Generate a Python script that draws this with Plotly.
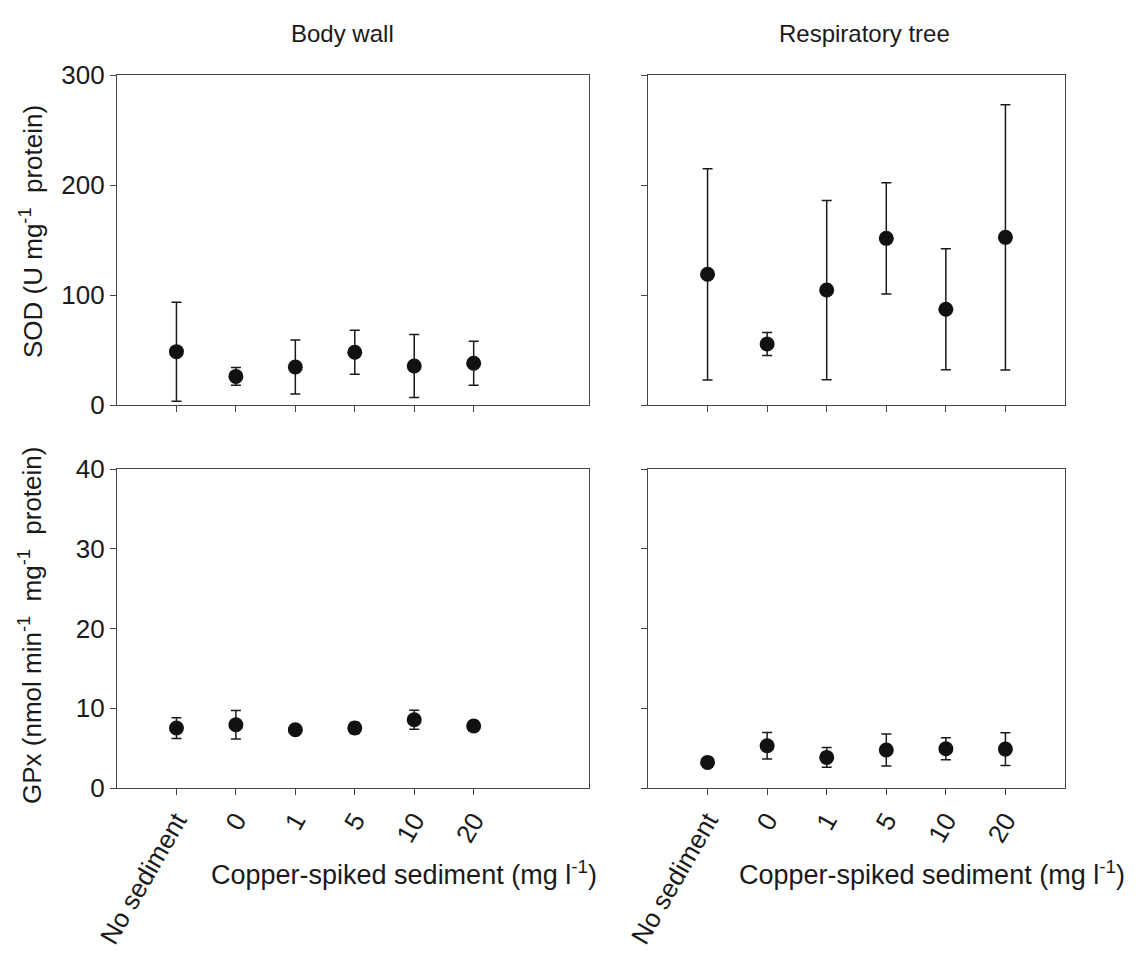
import plotly.graph_objects as go

categories = ["No sediment", "0", "1", "5", "10", "20"]

sod_body = [48.5, 26, 34.5, 48, 35.5, 38]
sod_body_err = [45, 8, 24.6, 20, 28.7, 20]
sod_resp = [118.8, 55.5, 104.5, 151.5, 87, 152.4]
sod_resp_err = [96, 10.5, 81.5, 50.5, 55, 120.5]

gpx_body = [7.52, 7.93, 7.3, 7.52, 8.56, 7.77]
gpx_body_err = [1.3, 1.8, 0.45, 0.7, 1.2, 0.6]
gpx_resp = [3.21, 5.3, 3.84, 4.76, 4.92, 4.88]
gpx_resp_err = [0.2, 1.65, 1.23, 2.0, 1.37, 2.05]

W, H = 1140, 960
FONT = "Liberation Sans, Arial, sans-serif"
TXT = "#1a1a1a"
LINE = "#454545"

def px(x):
    return x / W

def py(y):
    return 1 - y / H

fig = go.Figure()

panels = [
    (sod_body, sod_body_err, "x", "y"),
    (sod_resp, sod_resp_err, "x2", "y2"),
    (gpx_body, gpx_body_err, "x3", "y3"),
    (gpx_resp, gpx_resp_err, "x4", "y4"),
]
for vals, errs, xa, ya in panels:
    fig.add_trace(go.Scatter(
        x=categories, y=vals, xaxis=xa, yaxis=ya, mode="markers",
        marker=dict(size=15, color="#111111"),
        error_y=dict(type="data", array=errs, visible=True,
                     color="#1a1a1a", thickness=1.5, width=5),
        showlegend=False, cliponaxis=False,
    ))

xL = [px(117), px(589)]
xR = [px(648), px(1065)]
yT = [py(405), py(75)]
yB = [py(788), py(469)]

def xaxis(domain, anchor, rng, labels):
    return dict(domain=domain, anchor=anchor, type="category",
                categoryorder="array", categoryarray=categories,
                range=rng, showline=True, mirror=True, linecolor=LINE,
                linewidth=1.2, ticks="outside", ticklen=6, tickcolor=LINE,
                tickwidth=1.2, showgrid=False, zeroline=False,
                showticklabels=labels, tickangle=-60,
                tickfont=dict(family=FONT, size=26, color=TXT),
                automargin=False)

def yaxis(domain, anchor, rng, dtick, labels):
    return dict(domain=domain, anchor=anchor, range=rng, dtick=dtick,
                showline=True, mirror=True, linecolor=LINE, linewidth=1.2,
                ticks="outside", ticklen=6, tickcolor=LINE, tickwidth=1.2,
                showgrid=False, zeroline=False, showticklabels=labels,
                tickfont=dict(family=FONT, size=26, color=TXT),
                automargin=False)

fig.update_layout(
    width=W, height=H,
    margin=dict(l=0, r=0, t=0, b=0),
    paper_bgcolor="white", plot_bgcolor="white",
    font=dict(family=FONT, color=TXT),
    xaxis=xaxis(xL, "y", [-1.0, 6.94], False),
    yaxis=yaxis(yT, "x", [0, 300], 100, True),
    xaxis2=xaxis(xR, "y2", [-1.0, 6.0], False),
    yaxis2=yaxis(yT, "x2", [0, 300], 100, False),
    xaxis3=xaxis(xL, "y3", [-1.0, 6.94], True),
    yaxis3=yaxis(yB, "x3", [0, 40], 10, True),
    xaxis4=xaxis(xR, "y4", [-1.0, 6.0], True),
    yaxis4=yaxis(yB, "x4", [0, 40], 10, False),
)

ann = [
    dict(text="Body wall", x=px(342), y=py(33), size=24, angle=0),
    dict(text="Respiratory tree", x=px(864), y=py(33), size=24, angle=0),
    dict(text="SOD (U mg<sup>-1</sup>  protein)", x=px(31), y=py(232), size=26, angle=-90),
    dict(text="GPx (nmol min<sup>-1</sup>  mg<sup>-1</sup>  protein)", x=px(30), y=py(626), size=26, angle=-90),
    dict(text="Copper-spiked sediment (mg l<sup>-1</sup>)", x=px(404), y=py(873), size=27, angle=0),
    dict(text="Copper-spiked sediment (mg l<sup>-1</sup>)", x=px(932), y=py(873), size=27, angle=0),
]
for a in ann:
    fig.add_annotation(text=a["text"], x=a["x"], y=a["y"], xref="paper", yref="paper",
                       xanchor="center", yanchor="middle", showarrow=False,
                       textangle=a["angle"],
                       font=dict(family=FONT, size=a["size"], color=TXT))

fig.write_html("out.html")
